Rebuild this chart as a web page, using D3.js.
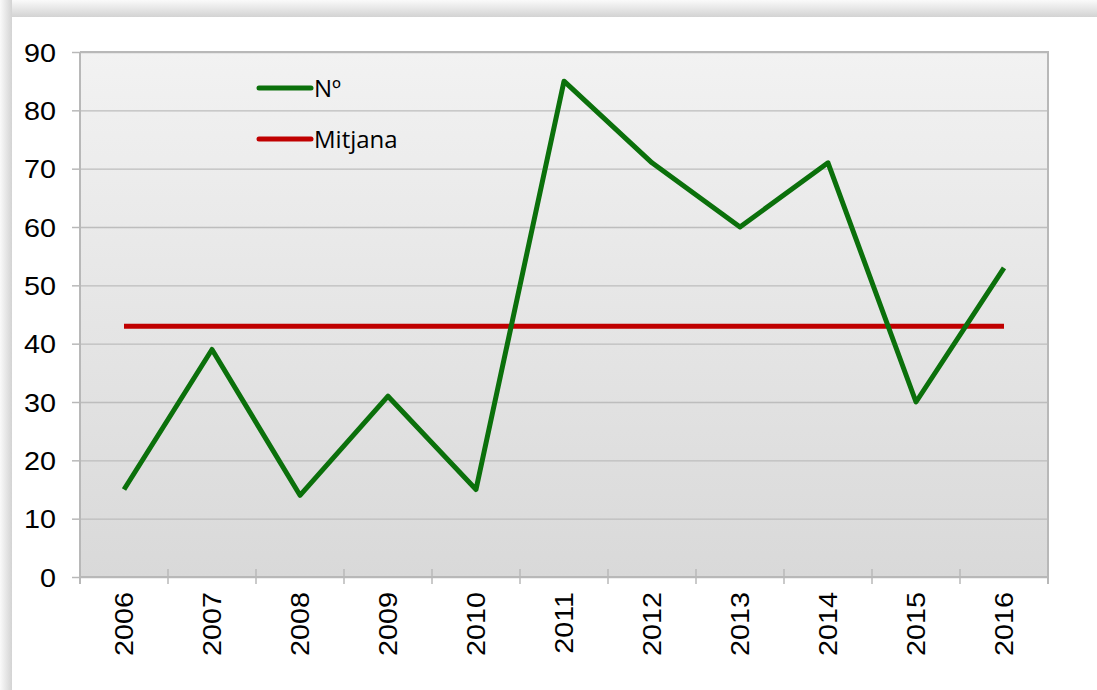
<!DOCTYPE html>
<html>
<head>
<meta charset="utf-8">
<style>
html, body { margin: 0; padding: 0; background: #fff; }
svg { display: block; }
</style>
</head>
<body>
<svg width="1097" height="690"></svg>
<script src="https://d3js.org/d3.v7.min.js"></script>
<script>
// chart values
var years = ["2006", "2007", "2008", "2009", "2010", "2011", "2012", "2013", "2014", "2015", "2016"];
var numValues = [15, 39, 14, 31, 15, 85, 71, 60, 71, 30, 53];
var mitjanaValues = [43, 43, 43, 43, 43, 43, 43, 43, 43, 43, 43];
var yTicks = [0, 10, 20, 30, 40, 50, 60, 70, 80, 90];
var seriesNames = ["Nº", "Mitjana"];

var svg = d3.select("svg");
var W = 1097, H = 690;
var plot = {left: 80, right: 1048, top: 52, bottom: 577};

var defs = svg.append("defs");
var bg = defs.append("linearGradient").attr("id", "plotBg")
    .attr("x1", 0).attr("y1", 0).attr("x2", 0).attr("y2", 1);
bg.append("stop").attr("offset", "0%").attr("stop-color", "#f2f2f2");
bg.append("stop").attr("offset", "100%").attr("stop-color", "#d9d9d9");

var shTop = defs.append("linearGradient").attr("id", "shTop")
    .attr("x1", 0).attr("y1", 0).attr("x2", 0).attr("y2", 1);
shTop.append("stop").attr("offset", "0%").attr("stop-color", "#fafafa");
shTop.append("stop").attr("offset", "100%").attr("stop-color", "#d3d3d3");
var shLeft = defs.append("linearGradient").attr("id", "shLeft")
    .attr("x1", 0).attr("y1", 0).attr("x2", 1).attr("y2", 0);
shLeft.append("stop").attr("offset", "0%").attr("stop-color", "#fafafa");
shLeft.append("stop").attr("offset", "100%").attr("stop-color", "#d3d3d3");

// outer frame shadow
svg.append("rect").attr("x", 0).attr("y", 0).attr("width", W).attr("height", 17).attr("fill", "url(#shTop)");
svg.append("rect").attr("x", 0).attr("y", 0).attr("width", 12).attr("height", H).attr("fill", "url(#shLeft)");
svg.append("rect").attr("x", 12).attr("y", 17).attr("width", W - 12).attr("height", H - 17).attr("fill", "#fff");

var x = d3.scaleBand()
    .domain(years)
    .range([plot.left, plot.right])
    .padding(0);
var y = d3.scaleLinear()
    .domain([0, 90])
    .range([plot.bottom, plot.top]);

// plot area
svg.append("rect")
    .attr("x", plot.left).attr("y", plot.top)
    .attr("width", plot.right - plot.left).attr("height", plot.bottom - plot.top)
    .attr("fill", "url(#plotBg)");

// gridlines
svg.append("g")
    .attr("transform", "translate(" + plot.left + ",0)")
    .call(d3.axisLeft(y).tickValues(yTicks).tickSize(-(plot.right - plot.left)).tickFormat(""))
    .call(function(g) { g.select(".domain").remove(); })
    .selectAll("line").attr("stroke", "#bdbdbd").attr("stroke-width", 1.3);

// border on top/right
svg.append("path")
    .attr("d", "M" + plot.left + "," + plot.top + "H" + plot.right + "V" + (plot.bottom + 7))
    .attr("fill", "none").attr("stroke", "#b8b8b8").attr("stroke-width", 2);

// y axis
var yAxis = svg.append("g")
    .attr("transform", "translate(" + plot.left + ",0)")
    .call(d3.axisLeft(y).tickValues(yTicks).tickSize(8).tickPadding(24));
yAxis.select(".domain").remove();
yAxis.selectAll("line").attr("stroke", "#b8b8b8").attr("stroke-width", 1.5);
yAxis.selectAll("text")
    .attr("x", 0).attr("dy", "0.36em")
    .attr("transform", "translate(-24,0) scale(1.15,1)")
    .attr("fill", "#000")
    .style("font-family", "'Liberation Sans', Arial, sans-serif")
    .style("font-size", "25px");
svg.append("line")
    .attr("x1", plot.left).attr("x2", plot.left)
    .attr("y1", plot.top).attr("y2", plot.bottom + 7)
    .attr("stroke", "#b8b8b8").attr("stroke-width", 2);

// x axis
var xAxis = svg.append("g")
    .attr("transform", "translate(0," + plot.bottom + ")")
    .call(d3.axisBottom(x).tickSize(0).tickPadding(0));
xAxis.select(".domain").remove();
xAxis.selectAll("text")
    .attr("y", 0).attr("dy", "0.35em")
    .attr("text-anchor", "end")
    .attr("transform", "translate(0,15) rotate(-90) scale(1.15,1)")
    .attr("fill", "#000")
    .style("font-family", "'Liberation Sans', Arial, sans-serif")
    .style("font-size", "25px");
svg.append("line")
    .attr("x1", plot.left).attr("x2", plot.right)
    .attr("y1", plot.bottom).attr("y2", plot.bottom)
    .attr("stroke", "#b8b8b8").attr("stroke-width", 2);
var bounds = years.slice(1).map(function(d) { return x(d); });
svg.append("g").selectAll("line")
    .data(bounds)
    .join("line")
    .attr("x1", function(d) { return d; }).attr("x2", function(d) { return d; })
    .attr("y1", plot.bottom - 8).attr("y2", plot.bottom + 7)
    .attr("stroke", "#b8b8b8").attr("stroke-width", 1.5);

// series lines
var line = d3.line()
    .x(function(d, i) { return x(years[i]) + x.bandwidth() / 2; })
    .y(function(d) { return y(d); });

svg.append("path")
    .datum(mitjanaValues)
    .attr("fill", "none")
    .attr("stroke", "#c00000")
    .attr("stroke-width", 5)
    .attr("d", line);

svg.append("path")
    .datum(numValues)
    .attr("fill", "none")
    .attr("stroke", "#0b700b")
    .attr("stroke-width", 5)
    .attr("stroke-linejoin", "round")
    .attr("d", line);

// legend
var legendColors = ["#0b700b", "#c00000"];
var legend = svg.append("g").attr("transform", "translate(257,88)");
var item = legend.selectAll("g")
    .data(seriesNames)
    .join("g")
    .attr("transform", function(d, i) { return "translate(0," + (i * 51) + ")"; });
item.append("line")
    .attr("x1", 2).attr("x2", 54)
    .attr("stroke", function(d, i) { return legendColors[i]; })
    .attr("stroke-width", 5)
    .attr("stroke-linecap", "round");
item.append("text")
    .attr("x", 57).attr("y", 9)
    .attr("fill", "#000")
    .style("font-family", "'Open Sans', sans-serif")
    .style("font-size", "24px")
    .text(function(d) { return d; });
</script>
</body>
</html>
